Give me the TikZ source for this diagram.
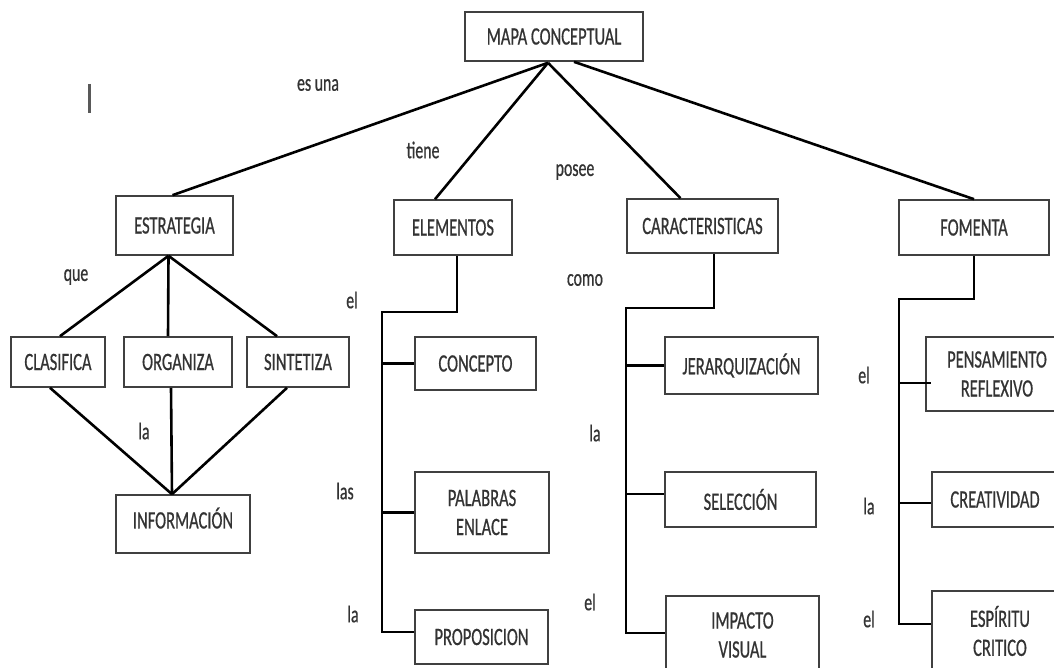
\documentclass[tikz,border=0pt]{standalone}
\usepackage{fontspec}
\setmainfont{Carlito}[FakeStretch=0.66,FakeBold=0.6]
\usetikzlibrary{calc}
\begin{document}
\begin{tikzpicture}[x=1pt,y=-1pt,
  box/.style={draw=black!75, line width=1.6pt, inner sep=0pt, align=center, text=black!80, font=\fontsize{25}{29}\selectfont},
  lbl/.style={text=black!80, font=\fontsize{24}{26}\selectfont, inner sep=0pt},
  conn/.style={line width=2.6pt, black}]
\clip (0,0) rectangle (1054,668);
\fill[white] (0,0) rectangle (1054,668);
% top
\node[box, minimum width=178, minimum height=49] (mapa) at (554,36.5) {MAPA CONCEPTUAL};
% level 1
\node[box, minimum width=117, minimum height=59] (estr) at (174.5,225.5) {ESTRATEGIA};
\node[box, minimum width=118, minimum height=55] (elem) at (453,227.5) {ELEMENTOS};
\node[box, minimum width=151, minimum height=54] (car) at (702.5,226) {CARACTERISTICAS};
\node[box, minimum width=150, minimum height=55] (fom) at (974,227.5) {FOMENTA};
% estrategia branch
\node[box, minimum width=94, minimum height=50] (clas) at (58,362) {CLASIFICA};
\node[box, minimum width=108, minimum height=50] (org) at (178,362) {ORGANIZA};
\node[box, minimum width=102, minimum height=50] (sint) at (298,362) {SINTETIZA};
\node[box, minimum width=134, minimum height=58, text depth=12pt] (info) at (183,524) {INFORMACIÓN};
% elementos branch
\node[box, minimum width=121, minimum height=53] (conc) at (475.5,363.5) {CONCEPTO};
\node[box, minimum width=134, minimum height=81] (pal) at (482,512.5) {PALABRAS\\ENLACE};
\node[box, minimum width=133, minimum height=54] (prop) at (481.5,637) {PROPOSICION};
% caracteristicas branch
\node[box, minimum width=153, minimum height=57] (jer) at (741.5,365.5) {JERARQUIZACIÓN};
\node[box, minimum width=151, minimum height=55] (sel) at (740.5,499.5) {SELECCIÓN};
\node[box, minimum width=153, minimum height=78] (imp) at (742.5,635) {IMPACTO\\VISUAL};
% fomenta branch
\node[box, minimum width=142, minimum height=74] (pen) at (997,374) {PENSAMIENTO\\REFLEXIVO};
\node[box, minimum width=126, minimum height=55] (cre) at (995,499.5) {CREATIVIDAD};
\node[box, minimum width=136, minimum height=80] (esp) at (1000,631) {ESPÍRITU\\CRITICO};
% labels
\node[lbl] (l1) at (318,85) {es una};
\node[lbl] (l2) at (423,150) {tiene};
\node[lbl] (l3) at (575,172) {posee};
\node[lbl] (l4) at (76,277) {que};
\node[lbl] (l5) at (352,300) {el};
\node[lbl] (l6) at (585,280) {como};
\node[lbl] (l7) at (144,431) {la};
\node[lbl] (l8) at (345,491) {las};
\node[lbl] (l9) at (353,614) {la};
\node[lbl] (l10) at (595,433) {la};
\node[lbl] (l11) at (590,602) {el};
\node[lbl] (l12) at (864,375) {el};
\node[lbl] (l13) at (869,506) {la};
\node[lbl] (l14) at (869,619) {el};
% stray cursor mark
\draw[black!65, line width=3pt] (89,84) -- (89,113);
% connectors from top
\coordinate (apex) at ($(mapa.south)+(-6,1)$);
\coordinate (apex2) at ($(mapa.south)+(20,0)$);
\draw[conn] (apex) -- ($(estr.north)+(-2,0)$);
\draw[conn] (apex) -- ($(elem.north)+(-18,0)$);
\draw[conn] (apex) -- ($(car.north)+(-22,0)$);
\draw[conn] (apex2) -- (fom.north);
% estrategia
\coordinate (es) at ($(estr.south)+(-6,0)$);
\draw[conn] (es) -- ($(clas.north)+(2,0)$);
\draw[conn] (es) -- ($(org.north)+(-10,0)$);
\draw[conn] (es) -- ($(sint.north)+(-21,0)$);
\coordinate (inf) at ($(info.north)+(-11,0)$);
\draw[conn] ($(clas.south)+(-8,0)$) -- (inf);
\draw[conn] ($(org.south)+(-7,0)$) -- (inf);
\draw[conn] ($(sint.south)+(-11,0)$) -- (inf);
% elementos bus
\coordinate (elA) at (382,312);
\coordinate (elB) at (382,632);
\draw[conn] ($(elem.south)+(4,0)$) |- (elA) -- (elB) -- (elB -| prop.west);
\draw[conn] (elA |- conc.west) -- (conc.west);
\draw[conn] (elA |- pal.west) -- (pal.west);
% caracteristicas bus
\coordinate (caA) at (626,308);
\coordinate (caB) at (626,633);
\draw[conn] ($(car.south)+(11.5,0)$) |- (caA) -- (caB) -- (caB -| imp.west);
\draw[conn] (caA |- jer.west) -- (jer.west);
\draw[conn] (caA |- 0,494) -- (sel.west |- 0,494);
% fomenta bus
\coordinate (foA) at (899,299);
\coordinate (foB) at (899,624);
\coordinate (pbr) at (931,383);
\draw[conn] (fom.south) |- (foA) -- (foB) -- (foB -| esp.west);
\draw[conn] (foA |- pbr) -- (pbr);
\draw[conn] (foA |- 0,503) -- (cre.west |- 0,503);
\end{tikzpicture}
\end{document}
